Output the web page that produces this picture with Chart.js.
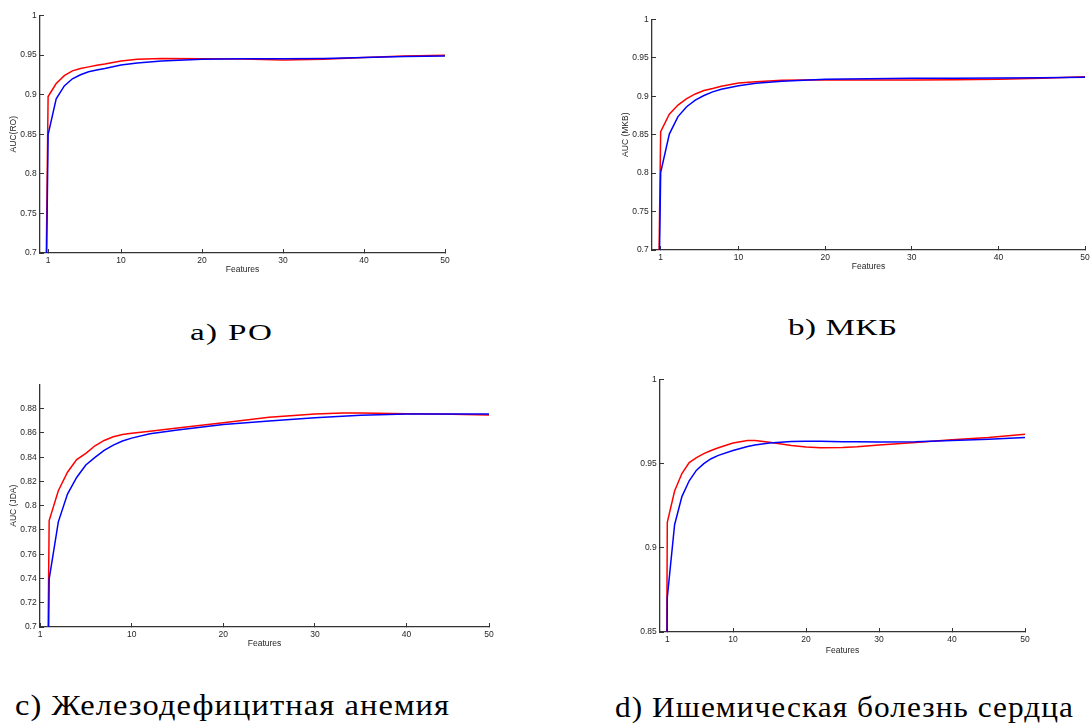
<!DOCTYPE html>
<html><head><meta charset="utf-8">
<script src="https://cdn.jsdelivr.net/npm/chart.js@4/dist/chart.umd.min.js"></script>
<style>
html,body{margin:0;padding:0;background:#fff;}
#root{position:relative;width:1091px;height:728px;overflow:hidden;background:#fff;}
canvas{position:absolute;}
.cap{position:absolute;font-family:'Liberation Serif',serif;font-weight:normal;color:#000;line-height:1;white-space:nowrap;transform-origin:0 0;}
.mk{display:inline-block;width:0;height:0;vertical-align:baseline;}
</style></head><body><div id="root"></div>
<script>
// ---- Panel a) РО ----
const xA = [0,1,2,3,4,5,6,7,8,10,12,15,20,25,30,35,40,45,50];
const redA = [0,0.8975,0.914,0.924,0.930,0.933,0.935,0.937,0.9385,0.9425,0.9445,0.9456,0.9454,0.945,0.9438,0.9445,0.947,0.9488,0.9496];
const blueA = [0,0.8496,0.8946,0.911,0.920,0.925,0.9288,0.931,0.933,0.9375,0.940,0.9425,0.9446,0.9452,0.9454,0.9456,0.9467,0.948,0.9488];
// ---- Panel b) МКБ ----
const xB = [0,1,2,3,4,5,6,7,8,10,12,15,20,25,30,35,40,45,50];
const redB = [0,0.854,0.8766,0.8886,0.897,0.903,0.9074,0.910,0.913,0.9173,0.919,0.9207,0.9216,0.921,0.921,0.9215,0.922,0.9233,0.9254];
const blueB = [0,0.8007,0.8508,0.8736,0.8864,0.895,0.901,0.9057,0.909,0.9138,0.9169,0.9194,0.922,0.9228,0.9233,0.9235,0.9237,0.924,0.9246];
// ---- Panel c) Железодефицитная анемия ----
const xC = [0,1,2,3,4,5,6,7,8,9,10,12,15,20,25,30,33,35,40,45,49];
const redC = [0,0.7878,0.8124,0.8276,0.838,0.8432,0.8494,0.8538,0.8568,0.8587,0.8598,0.8614,0.8641,0.8683,0.8729,0.8756,0.8764,0.8764,0.8759,0.8753,0.8748];
const blueC = [0,0.7395,0.7867,0.8096,0.8233,0.8336,0.8399,0.8456,0.850,0.8533,0.8557,0.8593,0.8625,0.8669,0.8699,0.8726,0.8738,0.8745,0.8756,0.8756,0.8756];
// ---- Panel d) Ишемическая болезнь сердца ----
const xD = [0,1,2,3,4,5,6,7,8,10,12,13,15,18,20,22,25,27,30,35,40,45,50];
const redD = [0,0.9151,0.9337,0.9441,0.9506,0.9535,0.9559,0.9578,0.9594,0.9622,0.9637,0.9637,0.9627,0.9608,0.9598,0.9594,0.9596,0.960,0.961,0.9625,0.9641,0.9655,0.9675];
const blueD = [0,0.8706,0.9137,0.9304,0.9398,0.9461,0.950,0.9529,0.9549,0.9578,0.9602,0.9611,0.9622,0.9631,0.9633,0.9632,0.963,0.963,0.9629,0.963,0.9637,0.9645,0.9655];

// ---- tick values / labels ----
const xTickPos = [1,10,20,30,40,50];
const xTickLbl = ['1','10','20','30','40','50'];
const xTickPosC = [0,10,20,30,40,49];
const xTickLblC = ['1','10','20','30','40','50'];
const yTickAB = [0.7,0.75,0.8,0.85,0.9,0.95,1];
const yLblAB = ['0.7','0.75','0.8','0.85','0.9','0.95','1'];
const yTickC = [0.7,0.72,0.74,0.76,0.78,0.8,0.82,0.84,0.86,0.88];
const yLblC = ['0.7','0.72','0.74','0.76','0.78','0.8','0.82','0.84','0.86','0.88'];
const yTickD = [0.85,0.9,0.95,1];
const yLblD = ['0.85','0.9','0.95','1'];

const captions = [
  {text:'a) РО', left:190, base:340, width:82, size:24, maxScale:1.38},
  {text:'b) МКБ', left:788, base:335, width:109, size:24, maxScale:1.38},
  {text:'c) Железодефицитная анемия', left:15, base:714.5, width:434, size:29.5, maxScale:1.1},
  {text:'d) Ишемическая болезнь сердца', left:615, base:716.5, width:458, size:28.5, maxScale:1.1}
];

const root = document.getElementById('root');
const TXT = '#262626';
const FONT = {family:"'Liberation Sans', Arial, sans-serif", size:8.5};
const YW = 45, PT = 10, PR = 14, XH = 30;

function panel(g, xs, red, blue, xMin, xMax, xT, xL, yMin, yMax, yT, yL, yTitle, xTitlePad) {
  const cv = document.createElement('canvas');
  const W = g.R - g.L + YW + PR, H = g.B - g.T + PT + XH;
  cv.width = W; cv.height = H;
  cv.style.left = (g.L - YW) + 'px'; cv.style.top = (g.T - PT) + 'px';
  cv.style.width = W + 'px'; cv.style.height = H + 'px';
  root.appendChild(cv);
  const pts = arr => xs.map((x,i)=>({x:x, y:arr[i]}));
  new Chart(cv, {
    type:'line',
    data:{datasets:[
      {data:pts(blue), borderColor:'#0000ff', borderWidth:1.5, pointRadius:0, tension:0, fill:false},
      {data:pts(red), borderColor:'#ff0000', borderWidth:1.5, pointRadius:0, tension:0, fill:false}
    ]},
    options:{
      responsive:false, animation:false, devicePixelRatio:1,
      layout:{padding:{top:PT,right:PR,bottom:0,left:0}},
      plugins:{legend:{display:false}, tooltip:{enabled:false}},
      events:[],
      scales:{
        x:{type:'linear', position:'bottom', min:xMin, max:xMax,
          afterBuildTicks: s => { s.ticks = xT.map(v=>({value:v})); },
          afterFit: s => { s.height = XH; },
          ticks:{autoSkip:false, maxRotation:0, minRotation:0, padding:6.5, color:TXT, font:FONT,
                 callback:(v,i)=>xL[i]},
          grid:{display:true, drawOnChartArea:false, drawTicks:true, tickLength:-4, color:'#333', lineWidth:1},
          border:{display:true, color:'#333', width:1.3},
          title:{display:true, text:'Features', color:TXT, font:FONT, padding:{top:0,bottom:xTitlePad}}
        },
        y:{type:'linear', position:'left', min:yMin, max:yMax,
          afterBuildTicks: s => { s.ticks = yT.map(v=>({value:v})); },
          afterFit: s => { s.width = YW; },
          ticks:{autoSkip:false, padding:7.3, color:TXT, font:FONT, callback:(v,i)=>yL[i]},
          grid:{display:true, drawOnChartArea:false, drawTicks:true, tickLength:-4, color:'#333', lineWidth:1},
          border:{display:true, color:'#333', width:1.3},
          title:{display: !!yTitle, text:yTitle || '', color:TXT, font:FONT, padding:{top:13.5,bottom:0}}
        }
      }
    }
  });
}

panel({L:40,R:445,T:13,B:253}, xA, redA, blueA, 0, 50, xTickPos, xTickLbl, 0.7, 1, yTickAB, yLblAB, 'AUC(RO)', 8);
panel({L:652,R:1085,T:17,B:250}, xB, redB, blueB, 0, 50, xTickPos, xTickLbl, 0.7, 1, yTickAB, yLblAB, 'AUC (MKB)', 8);
panel({L:40,R:489,T:382,B:627}, xC, redC, blueC, 0, 49, xTickPosC, xTickLblC, 0.7, 0.9, yTickC, yLblC, 'AUC (JDA)', 8);
panel({L:660,R:1025,T:377,B:632}, xD, redD, blueD, 0, 50, xTickPos, xTickLbl, 0.85, 1, yTickD, yLblD, '', 6.6);

captions.forEach(c => {
  const s = document.createElement('span');
  s.className = 'cap';
  s.style.fontSize = c.size + 'px';
  s.style.left = c.left + 'px';
  s.style.top = '0px';
  s.appendChild(document.createTextNode(c.text));
  const mk = document.createElement('span');
  mk.className = 'mk';
  s.appendChild(mk);
  root.appendChild(s);
  const baseOff = mk.getBoundingClientRect().top - s.getBoundingClientRect().top;
  s.style.top = (c.base - baseOff) + 'px';
  const w = s.getBoundingClientRect().width;
  const sc = Math.min(c.width / w, c.maxScale);
  const rest = c.width / sc - w;
  const ls = rest / (c.text.length - 1);
  s.style.letterSpacing = ls + 'px';
  s.style.marginRight = (-ls) + 'px';
  s.style.transform = 'scaleX(' + sc + ')';
});
</script>
</body></html>
